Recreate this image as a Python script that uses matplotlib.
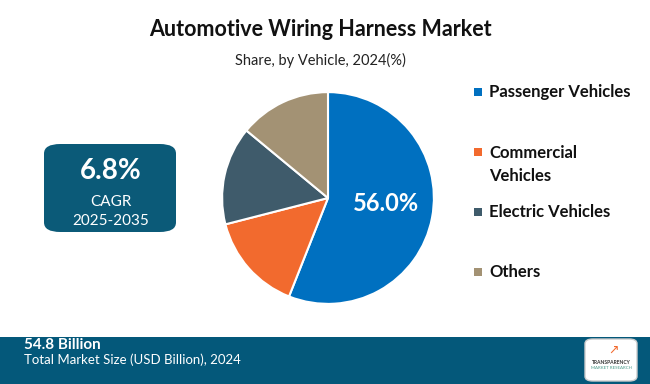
import matplotlib.pyplot as plt
from matplotlib.patches import FancyBboxPatch, Rectangle

# data
segments = ["Passenger Vehicles", "Commercial\nVehicles", "Electric Vehicles", "Others"]
shares = [56.0, 15.0, 15.0, 14.0]
colors = ["#0070C0", "#F26A2E", "#3F5B6B", "#A39274"]
cagr = "6.8%"
cagr_period = "2025-2035"
market_size = "54.8 Billion"

W, H = 650, 384
plt.rcParams['font.family'] = ['Lato', 'DejaVu Sans']

fig = plt.figure(figsize=(W / 100, H / 100), dpi=100)
fig.patch.set_facecolor("white")


def fx(px):
    return px / W


def fy(py):
    return 1 - py / H


# titles
fig.text(fx(320), fy(30), "Automotive Wiring Harness Market", ha="center", va="center",
         fontsize=15.5, fontweight="bold", color="#111111")
fig.text(fx(320), fy(60), "Share, by Vehicle, 2024(%)", ha="center", va="center",
         fontsize=10.5, color="#222222")

# pie
ax = fig.add_axes([fx(220), fy(306), 216 / W, 216 / H])
ax.pie(shares, colors=colors, startangle=90, counterclock=False, radius=1,
       wedgeprops=dict(edgecolor="white", linewidth=1.5))
ax.set_xlim(-1.02, 1.02)
ax.set_ylim(-1.02, 1.02)
ax.set_aspect("equal")
ax.axis("off")
ax.text(0.55, -0.05, f"{shares[0]:.1f}%", ha="center", va="center",
        fontsize=17, fontweight="bold", color="white")

# CAGR box
box = FancyBboxPatch((fx(44), fy(232)), fx(176) - fx(44), fy(144) - fy(232),
                     boxstyle="round,pad=0,rounding_size=0.025",
                     transform=fig.transFigure, facecolor="#0B5A78", edgecolor="none")
fig.patches.append(box)
fig.text(fx(111), fy(171), cagr, ha="center", va="center", fontsize=20,
         fontweight="bold", color="white")
fig.text(fx(111), fy(202), "CAGR", ha="center", va="center", fontsize=11, color="white")
fig.text(fx(111), fy(221), cagr_period, ha="center", va="center", fontsize=11, color="white")

# legend
legend_y = [92, 152, 212, 272]
for lbl, col, y in zip(segments, colors, legend_y):
    fig.patches.append(Rectangle((fx(474), fy(y + 4)), 8 / W, 8 / H,
                                 transform=fig.transFigure, facecolor=col, edgecolor="none"))
    if "\n" in lbl:
        fig.text(fx(489), fy(y - 7), lbl, ha="left", va="top", fontsize=12,
                 fontweight="bold", color="#111111", linespacing=1.5)
    else:
        fig.text(fx(489), fy(y), lbl, ha="left", va="center", fontsize=12,
                 fontweight="bold", color="#111111")

# footer band
fig.patches.append(Rectangle((0, 0), 1, fy(337), transform=fig.transFigure,
                             facecolor="#04587A", edgecolor="none"))
fig.text(fx(24), fy(345), market_size, ha="left", va="center", fontsize=11,
         fontweight="bold", color="white")
fig.text(fx(24), fy(360), "Total Market Size (USD Billion), 2024", ha="left", va="center",
         fontsize=9.5, color="white")

# logo
logo = FancyBboxPatch((fx(585), fy(381)), fx(637) - fx(585), fy(339) - fy(381),
                      boxstyle="round,pad=0,rounding_size=0.012",
                      transform=fig.transFigure, facecolor="white", edgecolor="#cccccc")
fig.patches.append(logo)
fig.text(fx(611), fy(362), "TRANSPARENCY", ha="center", va="center", fontsize=3.6,
         fontweight="bold", color="#333333")
fig.text(fx(611), fy(368), "MARKET RESEARCH", ha="center", va="center", fontsize=3.2,
         color="#4a9a8a")
fig.text(fx(613), fy(350), "\u2197", ha="center", va="center", fontsize=9,
         color="#F26A2E", family=["DejaVu Sans"])

fig.savefig("out.png", dpi=100)
